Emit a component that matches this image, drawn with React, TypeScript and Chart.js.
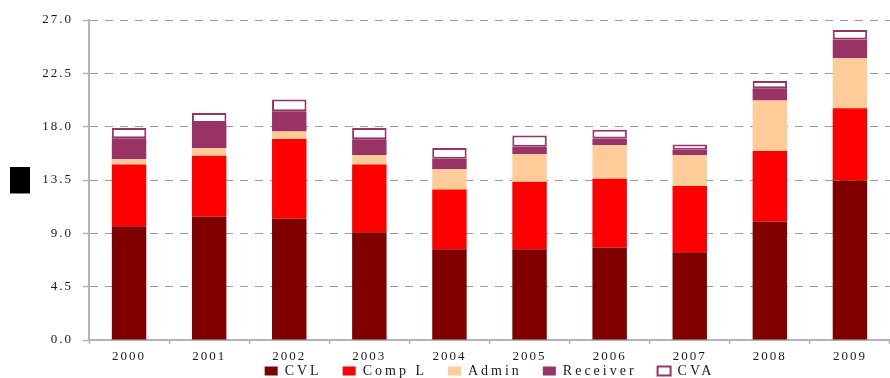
import React, { useEffect, useRef } from "react";
import { Chart, registerables } from "chart.js";

Chart.register(...registerables);

// Years on the category axis
const years = ["2000", "2001", "2002", "2003", "2004", "2005", "2006", "2007", "2008", "2009"];

// Stacked components per year
const cvl = [9.6, 10.4, 10.25, 9.1, 7.65, 7.65, 7.8, 7.4, 10.0, 13.45];
const compL = [5.2, 5.15, 6.7, 5.7, 5.05, 5.7, 5.8, 5.6, 5.95, 6.1];
const admin = [0.48, 0.65, 0.65, 0.78, 1.7, 2.35, 2.85, 2.6, 4.25, 4.25];
const receiver = [1.75, 2.1, 1.7, 1.35, 0.9, 0.6, 0.55, 0.45, 1.05, 1.55];
const cva = [0.85, 0.85, 1.0, 0.95, 0.9, 0.95, 0.75, 0.45, 0.6, 0.8];

// Value axis
const yMin = 0;
const yMax = 27;
const yStep = 4.5;

const SERIF = "'Liberation Serif', 'Times New Roman', serif";
const AXIS_GREY = "#b4b4b4";
const GRID_GREY = "#9c9c9c";
const TEXT = "#1a1a1a";

// Spaced-out lettering for axis labels and the legend
const SCALE_SPACING = "2px";
const LEGEND_SPACING = "3px";
// Height of the band the legend row is drawn in, measured up from the canvas bottom
const LEGEND_BAND = 35;

const spacedText = {
  id: "spacedText",
  afterInit(chart: any) {
    const lg = chart.legend;
    if (!lg || lg.__spaced) return;
    lg.__spaced = true;
    const fit = lg.fit.bind(lg);
    const draw = lg.draw.bind(lg);
    lg.fit = (...args: any[]) => {
      const c = chart.ctx;
      const prev = c.letterSpacing;
      c.letterSpacing = LEGEND_SPACING;
      try {
        return fit(...args);
      } finally {
        c.letterSpacing = prev;
      }
    };
    lg.draw = (...args: any[]) => {
      const c = chart.ctx;
      const prev = c.letterSpacing;
      const top = lg.top;
      c.letterSpacing = LEGEND_SPACING;
      // let the row use a taller band than its layout slot
      lg.top = lg.bottom - LEGEND_BAND;
      try {
        return draw(...args);
      } finally {
        lg.top = top;
        c.letterSpacing = prev;
      }
    };
  },
  beforeUpdate(chart: any) {
    chart.ctx.letterSpacing = SCALE_SPACING;
  },
  beforeDraw(chart: any) {
    chart.ctx.letterSpacing = SCALE_SPACING;
  },
};

// Solid block left of the value axis
const axisBlock = {
  id: "axisBlock",
  afterDraw(chart: any) {
    const { ctx, chartArea, scales } = chart;
    const cy = (chartArea.top + chartArea.bottom) / 2;
    ctx.save();
    ctx.fillStyle = "#000";
    ctx.beginPath();
    ctx.rect(scales.y.left + 10, cy - 13, 20, 26.5);
    ctx.fill();
    ctx.restore();
  },
};

export default function App() {
  const canvasRef = useRef<HTMLCanvasElement | null>(null);

  useEffect(() => {
    if (!canvasRef.current) return;
    const chart = new Chart(canvasRef.current, {
      type: "bar",
      data: {
        labels: years,
        datasets: [
          { label: "CVL", data: cvl, backgroundColor: "#800000", borderWidth: 0 },
          { label: "Comp L", data: compL, backgroundColor: "#ff0000", borderWidth: 0 },
          { label: "Admin", data: admin, backgroundColor: "#ffcc99", borderWidth: 0 },
          { label: "Receiver", data: receiver, backgroundColor: "#993366", borderWidth: 0 },
          {
            label: "CVA",
            data: cva,
            backgroundColor: "#ffffff",
            borderColor: "#993366",
            borderWidth: 2,
            borderSkipped: false,
          },
        ],
      },
      options: {
        responsive: true,
        maintainAspectRatio: false,
        animation: false,
        datasets: {
          bar: { barPercentage: 0.43, categoryPercentage: 1 },
        },
        layout: { padding: { left: 0, right: 0, top: 20, bottom: 0 } },
        plugins: {
          title: { display: false },
          tooltip: { enabled: false },
          legend: {
            position: "bottom",
            fullSize: false,
            maxHeight: 14,
            labels: {
              boxWidth: 13,
              boxHeight: 9,
              padding: 21,
              color: TEXT,
              font: { family: SERIF, size: 14 },
            },
          },
        },
        scales: {
          x: {
            stacked: true,
            afterFit(scale: any) {
              scale.height = 24;
            },
            grid: {
              offset: true,
              drawOnChartArea: false,
              drawTicks: true,
              tickLength: 4,
              tickColor: AXIS_GREY,
              tickWidth: 1.5,
            },
            border: { display: true, color: AXIS_GREY, width: 2 },
            ticks: {
              color: TEXT,
              padding: 5,
              maxRotation: 0,
              autoSkip: false,
              font: { family: SERIF, size: 13 },
            },
          },
          y: {
            stacked: true,
            min: yMin,
            max: yMax,
            afterFit(scale: any) {
              scale.width = 89;
            },
            grid: {
              color: GRID_GREY,
              lineWidth: 1,
              drawTicks: true,
              tickLength: 6,
              tickColor: AXIS_GREY,
              tickWidth: 1.5,
              tickBorderDash: [],
            },
            border: { display: true, color: AXIS_GREY, width: 2, dash: [8, 7] },
            ticks: {
              stepSize: yStep,
              color: TEXT,
              padding: 10,
              font: { family: SERIF, size: 13 },
              callback: (v: any) => Number(v).toFixed(1),
            },
          },
        },
      },
      plugins: [spacedText, axisBlock],
    });
    return () => chart.destroy();
  }, []);

  return (
    <div style={{ position: "absolute", left: 0, top: 0, width: 890, height: 378, background: "#fff" }}>
      <canvas ref={canvasRef} />
    </div>
  );
}
